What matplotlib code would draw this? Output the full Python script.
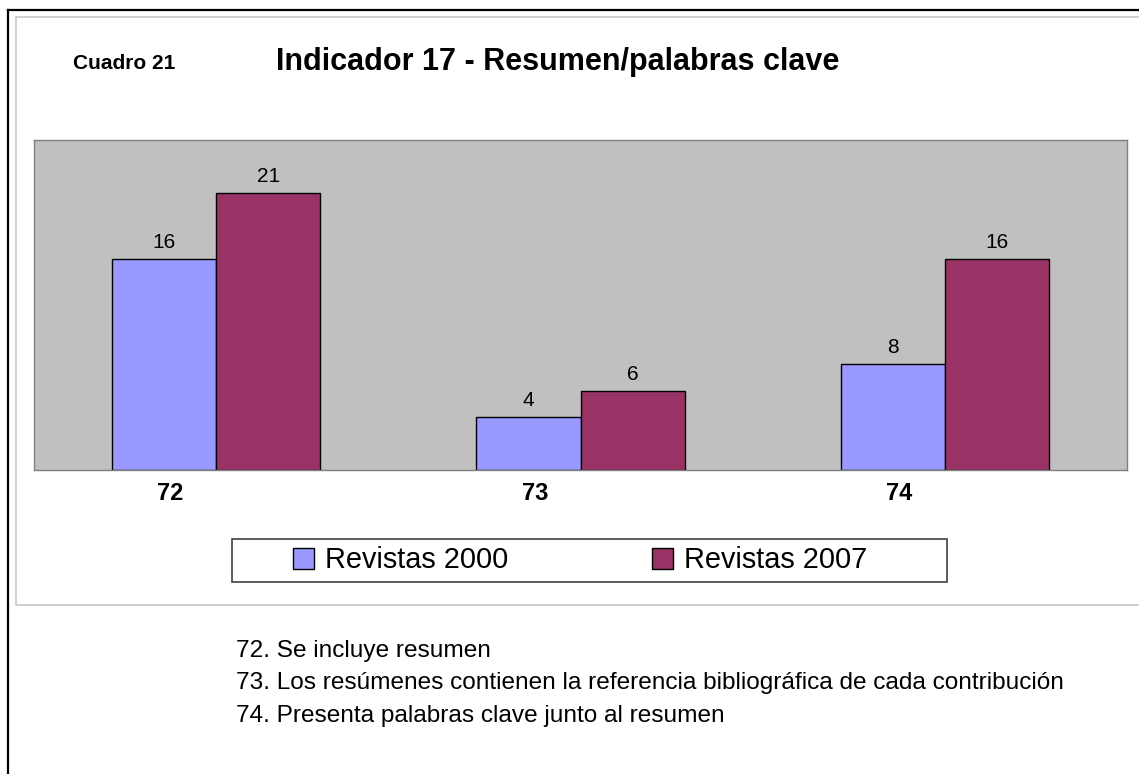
import numpy as np
import matplotlib
matplotlib.use('Agg')
import matplotlib.pyplot as plt
from matplotlib.lines import Line2D
from matplotlib.patches import Rectangle

# data
categories = ['72', '73', '74']
rev_2000 = [16, 4, 8]
rev_2007 = [21, 6, 16]
series_names = ['Revistas 2000', 'Revistas 2007']
notes = ['72. Se incluye resumen',
         '73. Los resúmenes contienen la referencia bibliográfica de cada contribución',
         '74. Presenta palabras clave junto al resumen']

W, H = 1139, 774
plt.rcParams['font.family'] = ['Liberation Sans', 'DejaVu Sans']


def fx(px):
    return px / W


def fy(py):
    return 1 - py / H


fig = plt.figure(figsize=(W / 100, H / 100), dpi=100)

# outer black frame and inner light grey chart frame (both run off the page)
fig.add_artist(Line2D([fx(8), fx(W + 5)], [fy(10), fy(10)], color='black', lw=1.6))
fig.add_artist(Line2D([fx(8), fx(8)], [fy(10), fy(H + 5)], color='black', lw=1.6))
fig.add_artist(Line2D([fx(16), fx(W + 5), fx(W + 5), fx(16), fx(16)],
                      [fy(17), fy(17), fy(605), fy(605), fy(17)],
                      color='#c8c8c8', lw=1.2))

ax = fig.add_axes([fx(34), fy(470), fx(1127) - fx(34), fy(140) - fy(470)])
ax.set_facecolor('#c0c0c0')
for s in ax.spines.values():
    s.set_color('#808080')
    s.set_linewidth(1.0)

x = np.arange(len(categories))
w = 104 / 364
b1 = ax.bar(x - w / 2, rev_2000, width=w, color='#9999ff', edgecolor='black',
            linewidth=1.0, label=series_names[0])
b2 = ax.bar(x + w / 2, rev_2007, width=w, color='#993366', edgecolor='black',
            linewidth=1.0, label=series_names[1])

for bars in (b1, b2):
    for r in bars:
        ax.annotate(f'{int(r.get_height())}',
                    (r.get_x() + r.get_width() / 2, r.get_height()),
                    xytext=(0, 8), textcoords='offset points',
                    ha='center', va='baseline', fontsize=15)

ax.set_xlim(-0.5, len(categories) - 0.5)
ax.set_ylim(0, 25)
ax.set_xticks([])
ax.set_yticks([])

# category labels sit a little left of the group centres
for i, c in enumerate(categories):
    ax.text(i - 0.125, -30 / 330, c, transform=ax.get_xaxis_transform(),
            ha='center', va='baseline', fontsize=17, fontweight='bold')

# titles
fig.text(fx(73), fy(69), 'Cuadro 21', fontsize=15, fontweight='bold',
         ha='left', va='baseline')
fig.text(fx(558), fy(70), 'Indicador 17 - Resumen/palabras clave', fontsize=22,
         fontweight='bold', ha='center', va='baseline')

# legend frame + legend
fig.add_artist(Rectangle((fx(232), fy(582)), fx(947) - fx(232), fy(539) - fy(582),
                         facecolor='white', edgecolor='#404040', lw=1.2))
leg = fig.legend(handles=[b1, b2], labels=series_names, loc='center left',
                 bbox_to_anchor=(fx(293), fy(560.5)), ncol=2, frameon=False,
                 fontsize=20.8, handlelength=0.73, handleheight=0.73,
                 handletextpad=0.38, columnspacing=4.98, borderpad=0,
                 borderaxespad=0)
leg.set_zorder(5)

# notes under the chart (narrow font in the original, so a smaller size here)
for k, line in enumerate(notes):
    fig.text(fx(236), fy(657 + 32.5 * k), line, fontsize=17.6,
             ha='left', va='baseline')

fig.savefig('out.png', dpi=100)
